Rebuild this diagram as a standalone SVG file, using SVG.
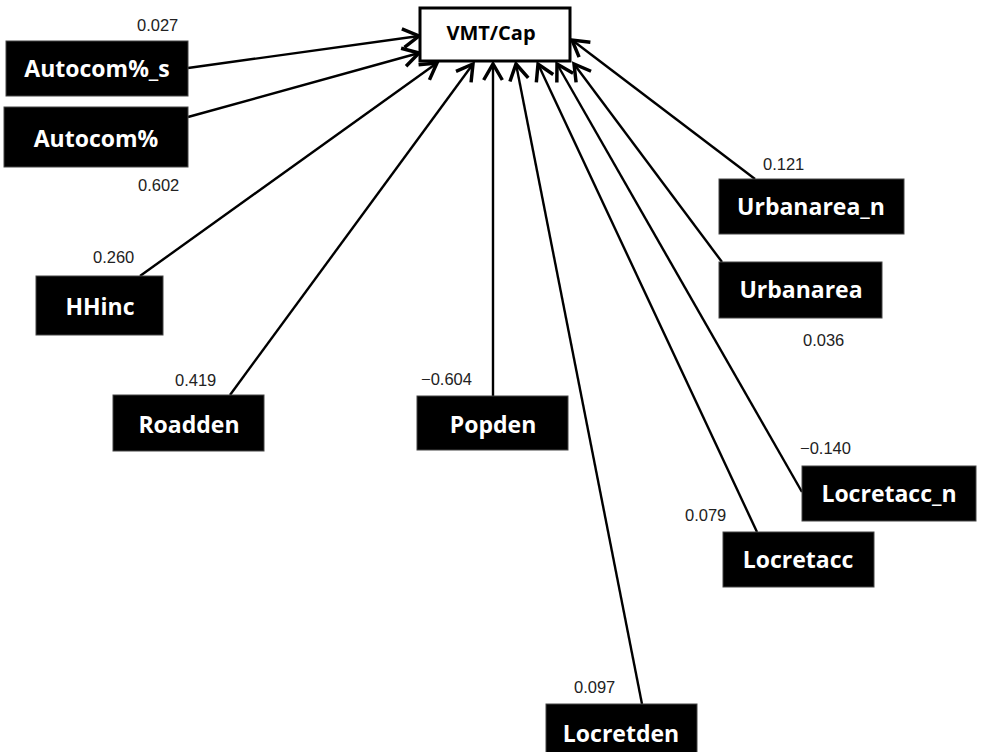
<svg xmlns="http://www.w3.org/2000/svg" width="982" height="752" viewBox="0 0 982 752">
<defs>
<marker id="arr" markerUnits="userSpaceOnUse" markerWidth="24" markerHeight="24" viewBox="-14 -9 16 18" refX="0" refY="0" orient="auto">
<path d="M-12,-7 L0,0 L-12,7" fill="none" stroke="#000" stroke-width="2.6" stroke-linejoin="miter"/>
</marker>
</defs>
<style>
.nb{fill:#000;stroke:#444;stroke-width:1}
.nt{fill:#fff;font-family:"Open Sans","DejaVu Sans",sans-serif;font-weight:bold;font-size:23px;text-anchor:middle}
.c{fill:none;stroke:#000;stroke-width:2.4;marker-end:url(#arr)}
.v{fill:#222;font-family:"Liberation Sans",Arial,sans-serif;font-size:16.5px}
</style>
<rect width="982" height="752" fill="#fff"/>
<g id="connectors">
<line class="c" x1="188" y1="68" x2="419" y2="36"/>
<line class="c" x1="188" y1="117" x2="419" y2="53"/>
<line class="c" x1="140" y1="276" x2="437" y2="63"/>
<line class="c" x1="230" y1="395" x2="473" y2="64"/>
<line class="c" x1="493" y1="396" x2="493" y2="64"/>
<line class="c" x1="642" y1="704" x2="516" y2="64"/>
<line class="c" x1="757" y1="532" x2="538" y2="64"/>
<line class="c" x1="802" y1="492" x2="557" y2="64"/>
<line class="c" x1="722" y1="262" x2="574" y2="64"/>
<line class="c" x1="755" y1="179" x2="572" y2="40"/>
</g>
<g id="VMTCap">
<rect x="420" y="8" width="150" height="53" fill="#fff" stroke="#000" stroke-width="3"/>
<text x="491" y="40" font-family="'Open Sans','DejaVu Sans',sans-serif" font-weight="bold" font-size="20" text-anchor="middle" fill="#000">VMT/Cap</text>
</g>
<g id="Autocom_s">
<rect class="nb" x="6" y="41" width="182" height="55"/>
<text class="nt" x="97" y="77">Autocom%_s</text>
</g>
<g id="Autocom">
<rect class="nb" x="4" y="107" width="184" height="60"/>
<text class="nt" x="96" y="147">Autocom%</text>
</g>
<g id="HHinc">
<rect class="nb" x="36" y="276" width="127" height="59"/>
<text class="nt" x="100" y="315">HHinc</text>
</g>
<g id="Roadden">
<rect class="nb" x="113" y="395" width="151" height="56"/>
<text class="nt" x="189" y="433">Roadden</text>
</g>
<g id="Popden">
<rect class="nb" x="417" y="396" width="151" height="54"/>
<text class="nt" x="493" y="433">Popden</text>
</g>
<g id="Urbanarea_n">
<rect class="nb" x="719" y="179" width="185" height="55"/>
<text class="nt" x="811" y="215">Urbanarea_n</text>
</g>
<g id="Urbanarea">
<rect class="nb" x="719" y="262" width="163" height="56"/>
<text class="nt" x="801" y="298">Urbanarea</text>
</g>
<g id="Locretacc_n">
<rect class="nb" x="802" y="466" width="174" height="55"/>
<text class="nt" x="889" y="502">Locretacc_n</text>
</g>
<g id="Locretacc">
<rect class="nb" x="723" y="532" width="151" height="55"/>
<text class="nt" x="798" y="568">Locretacc</text>
</g>
<g id="Locretden">
<rect class="nb" x="546" y="704" width="151" height="52"/>
<text class="nt" x="621" y="742">Locretden</text>
</g>
<g id="values">
<text class="v" x="137" y="31">0.027</text>
<text class="v" x="138" y="191">0.602</text>
<text class="v" x="93" y="263">0.260</text>
<text class="v" x="175" y="386">0.419</text>
<text class="v" x="421" y="385">−0.604</text>
<text class="v" x="763" y="170">0.121</text>
<text class="v" x="803" y="346">0.036</text>
<text class="v" x="800" y="454">−0.140</text>
<text class="v" x="685" y="521">0.079</text>
<text class="v" x="574" y="693">0.097</text>
</g>
</svg>
